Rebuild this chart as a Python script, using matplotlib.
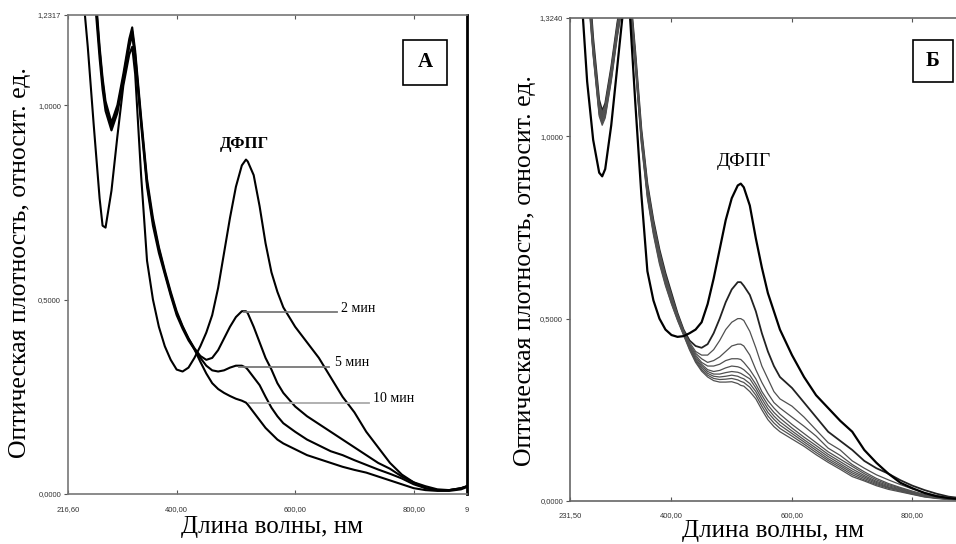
import matplotlib
matplotlib.use('Agg')
import matplotlib.pyplot as plt
from matplotlib.patches import Rectangle

# ---- panel A: DPPH alone and after 2, 5, 10 min ----
wl_a = [240, 250, 260, 270, 275, 280, 290, 300, 310, 320, 325, 330, 340, 350, 360, 370, 380, 390,
        400, 410, 420, 430, 440, 450, 460, 470, 480, 490, 500, 510, 517, 520, 530, 540, 550, 560,
        570, 580, 600, 620, 640, 660, 680, 700, 720, 740, 760, 780, 800, 820, 840, 860, 880, 890]

dpph_a = [1.32, 1.15, 0.95, 0.76, 0.69, 0.685, 0.78, 0.92, 1.05, 1.13, 1.15, 1.08, 0.82, 0.60, 0.50, 0.43, 0.38, 0.345,
          0.32, 0.315, 0.325, 0.35, 0.38, 0.415, 0.46, 0.53, 0.62, 0.71, 0.79, 0.845, 0.86, 0.855, 0.82, 0.74, 0.645, 0.57,
          0.52, 0.48, 0.43, 0.39, 0.35, 0.30, 0.25, 0.21, 0.16, 0.12, 0.08, 0.05, 0.03, 0.015, 0.01, 0.01, 0.015, 0.02]

min2_a = [1.70, 1.55, 1.33, 1.14, 1.06, 1.00, 0.945, 0.99, 1.07, 1.16, 1.19, 1.13, 0.96, 0.80, 0.70, 0.63, 0.57, 0.515,
          0.465, 0.43, 0.40, 0.375, 0.355, 0.345, 0.35, 0.37, 0.40, 0.43, 0.455, 0.47, 0.47, 0.465, 0.43, 0.39, 0.35, 0.32,
          0.285, 0.26, 0.225, 0.20, 0.18, 0.16, 0.14, 0.12, 0.10, 0.08, 0.065, 0.045, 0.03, 0.02, 0.012, 0.01, 0.015, 0.02]

min5_a = [1.68, 1.53, 1.31, 1.12, 1.04, 0.985, 0.935, 0.98, 1.06, 1.15, 1.18, 1.12, 0.95, 0.79, 0.69, 0.62, 0.565, 0.51,
          0.46, 0.425, 0.395, 0.372, 0.35, 0.33, 0.318, 0.315, 0.318, 0.325, 0.33, 0.33, 0.325, 0.32, 0.30, 0.28, 0.25, 0.222,
          0.20, 0.182, 0.16, 0.14, 0.125, 0.11, 0.10, 0.087, 0.075, 0.063, 0.052, 0.04, 0.025, 0.015, 0.01, 0.01, 0.014, 0.02]

min10_a = [1.72, 1.57, 1.35, 1.15, 1.07, 1.01, 0.955, 1.00, 1.08, 1.17, 1.20, 1.14, 0.97, 0.81, 0.71, 0.635, 0.575, 0.52,
           0.47, 0.432, 0.40, 0.372, 0.34, 0.31, 0.285, 0.27, 0.26, 0.252, 0.245, 0.24, 0.235, 0.23, 0.21, 0.19, 0.17, 0.155,
           0.14, 0.13, 0.115, 0.10, 0.09, 0.08, 0.07, 0.062, 0.055, 0.045, 0.035, 0.025, 0.015, 0.01, 0.008, 0.008, 0.012, 0.018]

time_labels = ['2 мин', '5 мин', '10 мин']

# ---- panel B: DPPH alone and a series of spectra over time ----
wl_b = [250, 260, 270, 280, 285, 290, 300, 310, 320, 330, 340, 350, 360, 370, 380, 390, 400, 410, 420,
        430, 440, 450, 460, 470, 480, 490, 500, 510, 515, 520, 530, 540, 550, 560, 570, 580,
        600, 620, 640, 660, 680, 700, 720, 740, 760, 780, 800, 820, 840, 860, 880, 900]

dpph_b = [1.40, 1.15, 0.99, 0.90, 0.89, 0.91, 1.03, 1.19, 1.35, 1.36, 1.09, 0.84, 0.63, 0.55, 0.50, 0.47, 0.455, 0.45, 0.452,
          0.46, 0.47, 0.49, 0.54, 0.61, 0.69, 0.77, 0.83, 0.865, 0.87, 0.86, 0.81, 0.72, 0.64, 0.57, 0.52, 0.47,
          0.40, 0.34, 0.29, 0.255, 0.22, 0.19, 0.14, 0.105, 0.075, 0.05, 0.035, 0.022, 0.013, 0.008, 0.005, 0.003]

series_b = [
    [1.75, 1.50, 1.27, 1.10, 1.07, 1.09, 1.19, 1.31, 1.41, 1.42, 1.23, 1.02, 0.87, 0.77, 0.69, 0.625, 0.57, 0.515, 0.47,
     0.44, 0.425, 0.42, 0.43, 0.46, 0.50, 0.545, 0.58, 0.60, 0.60, 0.59, 0.565, 0.52, 0.46, 0.41, 0.37, 0.34,
     0.31, 0.27, 0.23, 0.19, 0.165, 0.14, 0.11, 0.09, 0.075, 0.057, 0.042, 0.03, 0.02, 0.012, 0.008, 0.005],
    [1.74, 1.49, 1.26, 1.09, 1.065, 1.085, 1.185, 1.305, 1.405, 1.415, 1.225, 1.015, 0.865, 0.765, 0.685, 0.62, 0.565, 0.512, 0.468,
     0.435, 0.41, 0.40, 0.40, 0.415, 0.44, 0.47, 0.49, 0.50, 0.50, 0.495, 0.465, 0.42, 0.37, 0.335, 0.30, 0.28,
     0.26, 0.23, 0.195, 0.16, 0.14, 0.11, 0.09, 0.072, 0.058, 0.045, 0.033, 0.023, 0.015, 0.01, 0.006, 0.004],
    [1.73, 1.48, 1.25, 1.085, 1.06, 1.08, 1.18, 1.30, 1.40, 1.41, 1.22, 1.01, 0.86, 0.76, 0.68, 0.615, 0.56, 0.51, 0.466,
     0.43, 0.405, 0.39, 0.38, 0.385, 0.395, 0.41, 0.425, 0.43, 0.43, 0.425, 0.40, 0.36, 0.325, 0.295, 0.27, 0.255,
     0.23, 0.205, 0.178, 0.145, 0.125, 0.10, 0.08, 0.062, 0.048, 0.037, 0.027, 0.018, 0.012, 0.008, 0.005, 0.003],
    [1.72, 1.47, 1.245, 1.08, 1.055, 1.075, 1.175, 1.295, 1.395, 1.405, 1.215, 1.005, 0.855, 0.755, 0.675, 0.61, 0.556, 0.507, 0.464,
     0.428, 0.40, 0.38, 0.37, 0.37, 0.375, 0.385, 0.39, 0.39, 0.388, 0.38, 0.36, 0.335, 0.30, 0.275, 0.255, 0.238,
     0.21, 0.185, 0.16, 0.135, 0.115, 0.095, 0.075, 0.058, 0.045, 0.035, 0.025, 0.016, 0.01, 0.006, 0.004, 0.002],
    [1.71, 1.46, 1.24, 1.075, 1.05, 1.07, 1.17, 1.29, 1.39, 1.40, 1.21, 1.00, 0.85, 0.75, 0.67, 0.605, 0.552, 0.505, 0.462,
     0.425, 0.395, 0.375, 0.36, 0.355, 0.358, 0.365, 0.37, 0.368, 0.365, 0.36, 0.345, 0.32, 0.29, 0.263, 0.243, 0.227,
     0.20, 0.175, 0.152, 0.128, 0.108, 0.088, 0.07, 0.054, 0.042, 0.033, 0.023, 0.015, 0.009, 0.006, 0.004, 0.002],
    [1.70, 1.45, 1.235, 1.07, 1.045, 1.065, 1.165, 1.285, 1.385, 1.395, 1.205, 0.995, 0.845, 0.745, 0.665, 0.60, 0.548, 0.502, 0.46,
     0.422, 0.39, 0.37, 0.355, 0.348, 0.348, 0.352, 0.355, 0.353, 0.35, 0.345, 0.335, 0.31, 0.28, 0.253, 0.233, 0.217,
     0.192, 0.168, 0.145, 0.122, 0.102, 0.082, 0.066, 0.051, 0.039, 0.031, 0.022, 0.014, 0.009, 0.005, 0.003, 0.002],
    [1.69, 1.44, 1.23, 1.065, 1.04, 1.06, 1.16, 1.28, 1.38, 1.39, 1.20, 0.99, 0.84, 0.74, 0.66, 0.597, 0.545, 0.50, 0.458,
     0.42, 0.387, 0.365, 0.35, 0.342, 0.34, 0.342, 0.345, 0.342, 0.338, 0.335, 0.322, 0.30, 0.27, 0.243, 0.224, 0.208,
     0.185, 0.162, 0.139, 0.116, 0.097, 0.077, 0.062, 0.048, 0.037, 0.029, 0.02, 0.013, 0.008, 0.005, 0.003, 0.002],
    [1.68, 1.43, 1.225, 1.06, 1.035, 1.055, 1.155, 1.275, 1.375, 1.385, 1.195, 0.985, 0.835, 0.735, 0.655, 0.594, 0.542, 0.497, 0.456,
     0.417, 0.383, 0.36, 0.345, 0.336, 0.333, 0.334, 0.336, 0.332, 0.328, 0.325, 0.312, 0.29, 0.26, 0.233, 0.214, 0.199,
     0.178, 0.156, 0.133, 0.111, 0.092, 0.072, 0.058, 0.045, 0.035, 0.027, 0.019, 0.012, 0.008, 0.005, 0.003, 0.002],
    [1.67, 1.42, 1.22, 1.055, 1.03, 1.05, 1.15, 1.27, 1.37, 1.38, 1.19, 0.98, 0.83, 0.73, 0.65, 0.59, 0.54, 0.495, 0.455,
     0.414, 0.38, 0.356, 0.34, 0.33, 0.326, 0.326, 0.327, 0.322, 0.317, 0.315, 0.30, 0.28, 0.25, 0.223, 0.204, 0.19,
     0.17, 0.15, 0.127, 0.106, 0.087, 0.067, 0.055, 0.042, 0.032, 0.025, 0.018, 0.011, 0.007, 0.004, 0.003, 0.002],
]

ylabel = 'Оптическая плотность, относит. ед.'
xlabel = 'Длина волны, нм'
serif = ['Liberation Serif', 'DejaVu Serif']
sans = ['Liberation Sans', 'DejaVu Sans']

fig = plt.figure(figsize=(9.56, 5.44), dpi=100)

# ---------------- panel A ----------------
axA = fig.add_axes([0.0711, 0.0919, 0.4174, 0.8805])
for y in [dpph_a, min2_a, min5_a, min10_a]:
    axA.plot(wl_a, y, color='black', lw=1.5)
axA.set_xlim(216.6, 890)
axA.set_ylim(0, 1.2317)
axA.set_xticks([216.6, 400, 600, 800, 890])
axA.set_xticklabels(['216,60', '400,00', '600,00', '800,00', '9'])
axA.set_yticks([0, 0.5, 1.0, 1.2317])
axA.set_yticklabels(['0,0000', '0,5000', '1,0000', '1,2317'])
axA.tick_params(axis='x', direction='in', length=3, top=True, labelsize=5.5, pad=9, colors='#555555')
axA.tick_params(axis='y', direction='out', length=3, labelsize=5.5, pad=2, colors='#555555')
for lab in axA.get_xticklabels() + axA.get_yticklabels():
    lab.set_family(sans)
    lab.set_color('#333333')
for side in ['left', 'bottom', 'top']:
    axA.spines[side].set_color('#777777')
    axA.spines[side].set_linewidth(1.2)
axA.spines['right'].set_color('black')
axA.spines['right'].set_linewidth(2.0)

# time annotations
ann_a = [(514, 670, 0.468, 677, 0.478, '#777777'),
         (505, 657, 0.326, 668, 0.338, '#777777'),
         (522, 724, 0.234, 732, 0.246, '#aaaaaa')]
for (x0, x1, yl, xt, yt, c), lab in zip(ann_a, time_labels):
    axA.plot([x0, x1], [yl, yl], color=c, lw=1.3)
    axA.text(xt, yt, lab, family=serif, fontsize=10, va='center', ha='left')

axA.text(515, 0.90, 'ДФПГ', family=serif, fontsize=12, fontweight='bold', ha='center', va='center')
axA.add_patch(Rectangle((0.840, 0.854), 0.110, 0.094, transform=axA.transAxes,
                        fill=False, ec='black', lw=1.2))
axA.text(0.895, 0.901, 'А', transform=axA.transAxes, family=serif, fontsize=15,
         fontweight='bold', ha='center', va='center')
axA.set_xlabel(xlabel, family=serif, fontsize=18)
axA.xaxis.set_label_coords(0.511, -0.046)
axA.set_ylabel(ylabel, family=serif, fontsize=18.5)
axA.yaxis.set_label_coords(-0.093, 0.484)

# ---------------- panel B ----------------
axB = fig.add_axes([0.5962, 0.0790, 0.4213, 0.8879])
for i, y in enumerate(series_b):
    axB.plot(wl_b, y, color='#222222' if i == 0 else '#505050', lw=1.3 if i == 0 else 0.9)
axB.plot(wl_b, dpph_b, color='black', lw=1.6)
axB.set_xlim(231.5, 900)
axB.set_ylim(0, 1.324)
axB.set_xticks([231.5, 400, 600, 800])
axB.set_xticklabels(['231,50', '400,00', '600,00', '800,00'])
axB.set_yticks([0, 0.5, 1.0, 1.324])
axB.set_yticklabels(['0,0000', '0,5000', '1,0000', '1,3240'])
axB.tick_params(axis='x', direction='in', length=3, top=True, labelsize=5.5, pad=8, colors='#555555')
axB.tick_params(axis='y', direction='out', length=3, labelsize=5.5, pad=2, colors='#555555')
for lab in axB.get_xticklabels() + axB.get_yticklabels():
    lab.set_family(sans)
    lab.set_color('#333333')
for side in ['left', 'bottom', 'top']:
    axB.spines[side].set_color('#666666')
    axB.spines[side].set_linewidth(1.2)

axB.text(520, 0.93, 'ДФПГ', family=serif, fontsize=14, ha='center', va='center')
axB.add_patch(Rectangle((0.8515, 0.8675), 0.0995, 0.087, transform=axB.transAxes,
                        fill=False, ec='black', lw=1.2))
axB.text(0.901, 0.911, 'Б', transform=axB.transAxes, family=serif, fontsize=15,
         fontweight='bold', ha='center', va='center')
axB.set_xlabel(xlabel, family=serif, fontsize=18)
axB.xaxis.set_label_coords(0.503, -0.039)
axB.set_ylabel(ylabel, family=serif, fontsize=18.5)
axB.yaxis.set_label_coords(-0.084, 0.478)

fig.savefig('out.png', dpi=100)
